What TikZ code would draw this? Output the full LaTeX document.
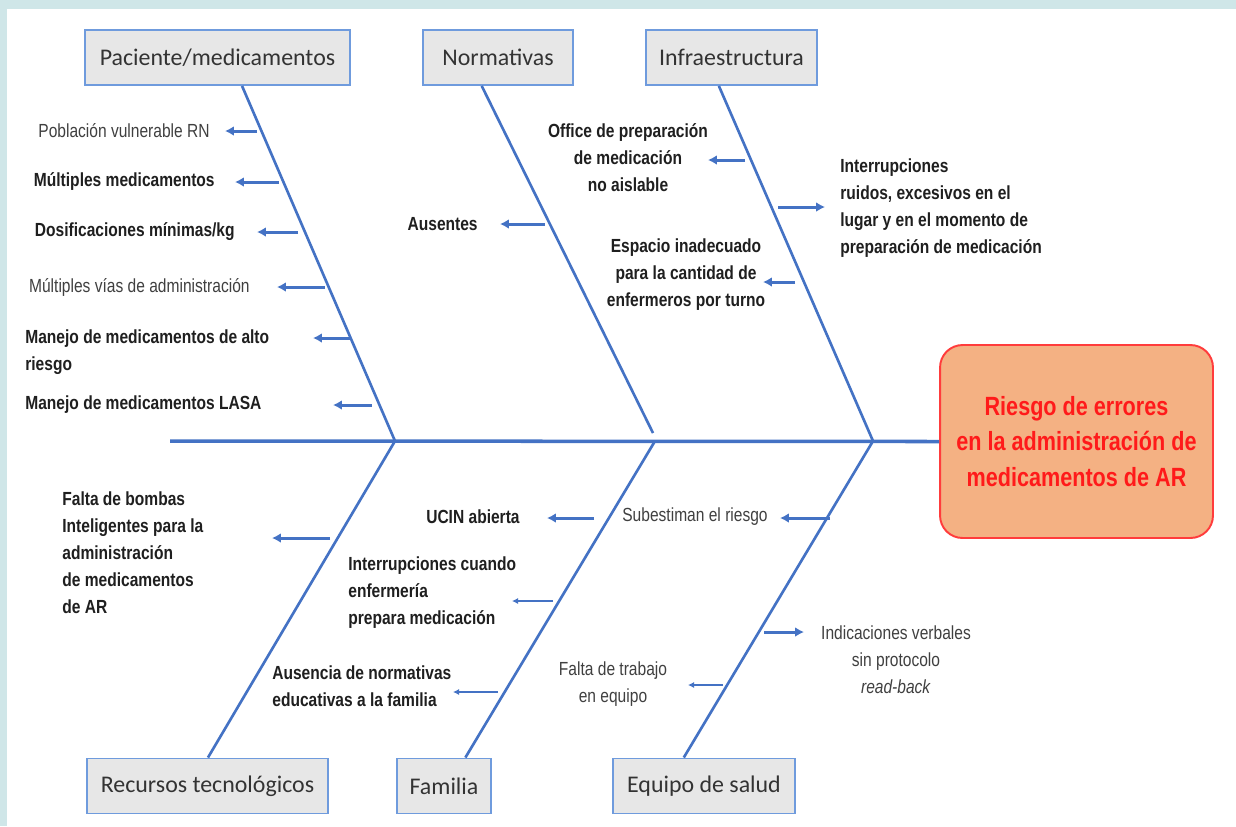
\documentclass[tikz,border=0pt]{standalone}
\usepackage{fontspec}
\usetikzlibrary{arrows.meta,calc}
\newfontfamily\etiq{Liberation Sans}[FakeStretch=0.82]
\newfontfamily\cajafont{Carlito}
\definecolor{azul}{HTML}{4472C4}
\definecolor{azulcaja}{HTML}{6F9BDD}
\definecolor{grisclaro}{HTML}{E7E7E7}
\definecolor{naranja}{HTML}{F4B183}
\definecolor{rojo}{HTML}{FF1A1A}
\definecolor{fondo}{HTML}{CFE6E8}

\begin{document}
\begin{tikzpicture}[x=0.02cm, y=-0.02cm]
  % Styles
  \tikzset{
    cat/.style={draw=azulcaja, line width=1.1pt, fill=grisclaro, minimum height=1.1cm,
      font=\cajafont\fontsize{13.6}{16}\selectfont, text=black!80},
    efecto/.style={draw=rojo!85, line width=1.1pt, fill=naranja, rounded corners=0.45cm,
      minimum width=5.46cm, minimum height=3.86cm, align=center, text=rojo,
      font=\etiq\bfseries\fontsize{15}{20}\selectfont},
    causa/.style={inner sep=0pt, text=black!88, font=\etiq\bfseries\fontsize{10.8}{15.4}\selectfont},
    causan/.style={inner sep=0pt, text=black!75, font=\etiq\fontsize{10.8}{15.4}\selectfont},
    espina/.style={azul, line width=1.5pt},
    flecha/.style={azul, line width=1.7pt, -{Latex[length=5pt, width=5.5pt]}},
    flechaf/.style={azul, line width=0.6pt, -{Latex[length=3.5pt, width=3.5pt]}},
  }

  % Fondo
  \fill[fondo] (0,0) rectangle (1236,826);
  \fill[white] (7,9) rectangle (1236,826);
  \useasboundingbox (0,0) rectangle (1236,826);

  % Efecto
  \node[efecto] (efecto) at (1076.5,441.5) {Riesgo de errores\\en la administración de\\medicamentos de AR};

  % Categorias
  \node[cat, minimum width=5.3cm]  (pac)   at (217.5,57.5) {Paciente/medicamentos};
  \node[cat, minimum width=3cm]    (norm)  at (498,57.5)   {Normativas};
  \node[cat, minimum width=3.42cm] (infra) at (731.5,57.5) {Infraestructura};
  \node[cat, minimum width=4.82cm] (rec)   at (207.5,786)  {Recursos tecnológicos};
  \node[cat, minimum width=1.88cm] (fam)   at (444,786)    {Familia};
  \node[cat, minimum width=3.64cm] (equ)   at (704,786)    {Equipo de salud};

  % Espina central
  \coordinate (cola) at (170,441);
  \coordinate (j1) at (395,441);
  \coordinate (j2) at (655,441);
  \coordinate (j3) at (873,441);
  \coordinate (e2) at (653,433);
  \draw[espina, line width=2pt] (cola) -- (efecto.west);

  % Huesos
  \draw[espina] ($(pac.south west)!0.592!(pac.south east)$) -- (j1);
  \draw[espina] ($(norm.south west)!0.393!(norm.south east)$) -- (e2);
  \draw[espina] ($(infra.south west)!0.427!(infra.south east)$) -- (j3);
  \draw[espina] (j1) -- ($(rec.north west)!0.502!(rec.north east)$);
  \draw[espina] (j2) -- ($(fam.north west)!0.723!(fam.north east)$);
  \draw[espina] (j3) -- ($(equ.north west)!0.39!(equ.north east)$);

  % Flechas gruesas
  \foreach \n/\y/\xa/\xb in {
    11/131/257/225,
    12/182/279/235,
    13/232/298/257,
    14/287/325/277,
    15/338/350/313,
    16/405/372/333,
    21/224/545/500,
    31/160/745/708,
    32/282/795/763,
    33/207/778/825,
    41/538/330/272,
    51/518/594/547,
    61/518/830/780,
    62/632/764/804
  }{
    \coordinate (a\n) at (\xa,\y);
    \coordinate (b\n) at (\xb,\y);
    \draw[flecha] (a\n) -- (b\n);
  }

  % Flechas finas
  \foreach \n/\y/\xa/\xb in {
    52/601/553/512,
    53/692/498/453,
    63/685/723/688
  }{
    \coordinate (a\n) at (\xa,\y);
    \coordinate (b\n) at (\xb,\y);
    \draw[flechaf] (a\n) -- (b\n);
  }

  % Paciente/medicamentos
  \node[causan, anchor=east] (l11) at (210,131) {Población vulnerable RN};
  \node[causa, anchor=east]  (l12) at (215,182) {Múltiples medicamentos};
  \node[causa, anchor=east]  (l13) at (235,232) {Dosificaciones mínimas/kg};
  \node[causan, anchor=east] (l14) at (250,287) {Múltiples vías de administración};
  \node[causa, anchor=west, align=left] (l15) at (25,352) {Manejo de medicamentos de alto\\riesgo};
  \node[causa, anchor=west]  (l16) at (25,405) {Manejo de medicamentos LASA};

  % Normativas
  \node[causa, anchor=east] (l21) at (478,224) {Ausentes};

  % Infraestructura
  \node[causa, align=center] (l31) at (628,158) {Office de preparación\\de medicación\\no aislable};
  \node[causa, align=center] (l32) at (686,275) {Espacio inadecuado\\para la cantidad de\\enfermeros por turno};
  \node[causa, anchor=west, align=left] (l33) at (840,208) {Interrupciones\\ruidos, excesivos en el\\lugar y en el momento de\\preparación de medicación};

  % Recursos tecnologicos
  \node[causa, anchor=west, align=left] (l41) at (62,553) {Falta de bombas\\Inteligentes para la\\administración\\de medicamentos\\de AR};

  % Familia
  \node[causa, anchor=east] (l51) at (520,517) {UCIN abierta};
  \node[causa, anchor=west, align=left] (l52) at (348,593) {Interrupciones cuando\\enfermería\\prepara medicación};
  \node[causa, anchor=west, align=left] (l53) at (272,686) {Ausencia de normativas\\educativas a la familia};

  % Equipo de salud
  \node[causan, anchor=east] (l61) at (768,517) {Subestiman el riesgo};
  \node[causan, align=center] (l62) at (896,660) {Indicaciones verbales\\sin protocolo\\\textit{read-back}};
  \node[causan, align=center] (l63) at (613,684) {Falta de trabajo\\en equipo};

\end{tikzpicture}
\end{document}
